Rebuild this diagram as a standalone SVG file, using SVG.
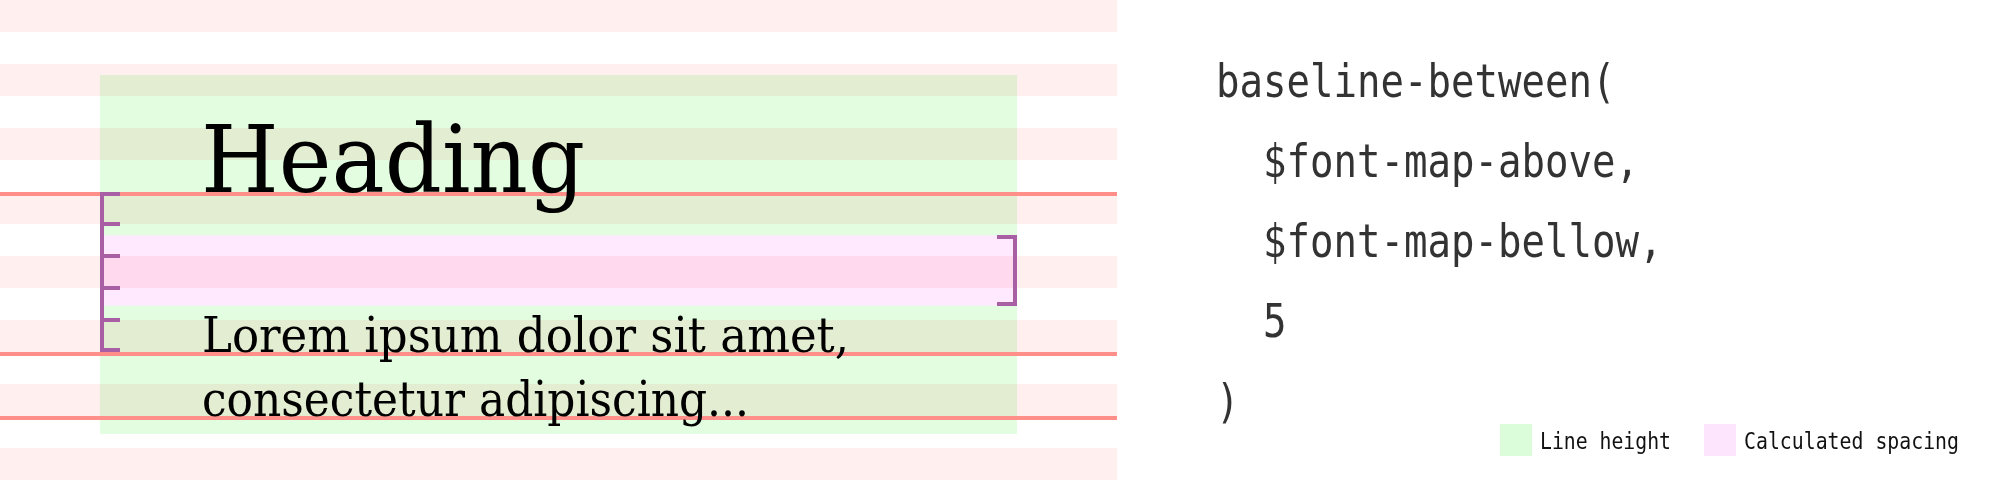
<svg xmlns="http://www.w3.org/2000/svg" width="2000" height="480" viewBox="0 0 2000 480">
  <style>
    .stripe { fill: #FFEFEF; }
    .stripes { mix-blend-mode: multiply; }
    .base { fill: #FF8F88; }
    .brk { fill: #A95FA3; }
    .serif { font-family: "DejaVu Serif", "Liberation Serif", serif; fill: #000; }
    .code { font-family: "DejaVu Sans Mono", "Liberation Mono", monospace; font-size: 46px; fill: #333; }
    .leg { font-family: "DejaVu Sans Mono", "Liberation Mono", monospace; font-size: 23px; fill: #111; }
  </style>
  <rect width="2000" height="480" fill="#FFFFFF"/>
  <g id="line-height-box">
    <rect x="100" y="75" width="917" height="359" fill="#E2FDDF"/>
  </g>
  <g id="calculated-spacing">
    <rect x="100" y="235.3" width="917" height="70.4" fill="#FFE9FF"/>
  </g>
  <g id="baseline-grid" class="stripes">
    <rect class="stripe" x="0" y="0" width="1117" height="32"/>
    <rect class="stripe" x="0" y="64" width="1117" height="32"/>
    <rect class="stripe" x="0" y="128" width="1117" height="32"/>
    <rect class="stripe" x="0" y="192" width="1117" height="32"/>
    <rect class="stripe" x="0" y="256" width="1117" height="32"/>
    <rect class="stripe" x="0" y="320" width="1117" height="32"/>
    <rect class="stripe" x="0" y="384" width="1117" height="32"/>
    <rect class="stripe" x="0" y="448" width="1117" height="32"/>
  </g>
  <g id="baselines">
    <rect class="base" x="0" y="192" width="1117" height="4"/>
    <rect class="base" x="0" y="352" width="1117" height="4"/>
    <rect class="base" x="0" y="416" width="1117" height="4"/>
  </g>
  <g id="connectors">
    <g id="left-bracket" class="brk">
      <rect x="100" y="192" width="4" height="160"/>
      <rect x="100" y="192" width="20" height="4"/>
      <rect x="100" y="222" width="20" height="4"/>
      <rect x="100" y="254" width="20" height="4"/>
      <rect x="100" y="286" width="20" height="4"/>
      <rect x="100" y="318" width="20" height="4"/>
      <rect x="100" y="348" width="20" height="4"/>
    </g>
    <g id="right-bracket" class="brk">
      <rect x="1013" y="235" width="4" height="71"/>
      <rect x="997" y="235" width="20" height="4"/>
      <rect x="997" y="302" width="20" height="4"/>
    </g>
  </g>
  <g id="heading">
    <text class="serif" x="201" y="192" font-size="93" textLength="384" lengthAdjust="spacingAndGlyphs">Heading</text>
  </g>
  <g id="paragraph">
    <text class="serif" x="202" y="352" font-size="48" textLength="647" lengthAdjust="spacingAndGlyphs">Lorem ipsum dolor sit amet,</text>
    <text class="serif" x="202" y="416" font-size="48" textLength="547" lengthAdjust="spacingAndGlyphs">consectetur adipiscing...</text>
  </g>
  <g id="code">
    <text class="code" x="1216" y="97" textLength="399.5" lengthAdjust="spacingAndGlyphs">baseline-between(</text>
    <text class="code" x="1263" y="177" textLength="376" lengthAdjust="spacingAndGlyphs">$font-map-above,</text>
    <text class="code" x="1263" y="257" textLength="399.5" lengthAdjust="spacingAndGlyphs">$font-map-bellow,</text>
    <text class="code" x="1263" y="337" textLength="23.5" lengthAdjust="spacingAndGlyphs">5</text>
    <text class="code" x="1216" y="417" textLength="23.5" lengthAdjust="spacingAndGlyphs">)</text>
  </g>
  <g id="legend-line-height">
    <rect x="1500" y="424" width="32" height="32" fill="#DCFDDA"/>
    <text class="leg" x="1540" y="449" textLength="131" lengthAdjust="spacingAndGlyphs">Line height</text>
  </g>
  <g id="legend-calculated-spacing">
    <rect x="1704" y="424" width="32" height="32" fill="#FDE6FD"/>
    <text class="leg" x="1744" y="449" textLength="215" lengthAdjust="spacingAndGlyphs">Calculated spacing</text>
  </g>
</svg>
